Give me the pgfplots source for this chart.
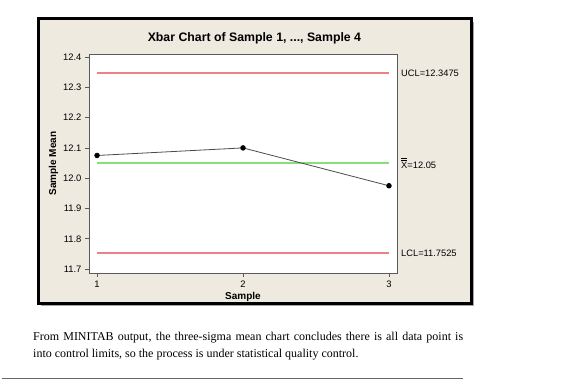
\documentclass[border=0pt]{standalone}
\usepackage{pgfplots}
\pgfplotsset{compat=1.18}
\usepackage{fontspec}
\setmainfont{Liberation Sans}
\newfontfamily\serif{Liberation Serif}
\definecolor{framebg}{RGB}{238,234,224}
\definecolor{uclcol}{RGB}{232,130,135}
\definecolor{clcol}{RGB}{135,222,125}
\definecolor{axgray}{RGB}{90,90,90}
\begin{document}
\begin{tikzpicture}[x=1pt,y=1pt]
\useasboundingbox (0,0) rectangle (580,389);
% frame with shadow
\fill[black!35] (41,389-306) rectangle (474,389-22);
\filldraw[fill=framebg, draw=black, line width=3pt] (38,389-303.5) rectangle (471,389-19);
\begin{axis}[
  at={(89pt,116pt)}, anchor=south west,
  scale only axis, width=308pt, height=219pt,
  xmin=0.945, xmax=3.055, ymin=11.687, ymax=12.41,
  axis background/.style={fill=white},
  axis line style={axgray, line width=0.8pt},
  xtick={1,2,3}, ytick={11.7,11.8,11.9,12.0,12.1,12.2,12.3,12.4},
  yticklabel style={/pgf/number format/fixed, /pgf/number format/fixed zerofill, /pgf/number format/precision=1},
  /pgf/number format/assume math mode=true,
  tick align=outside, major tick length=4pt,
  tick style={axgray, line width=0.8pt},
  xtick pos=bottom, ytick pos=left,
  ticklabel style={font=\fontsize{9.4}{10}\selectfont, text=black},
  every axis title shift=0pt,
  title={Xbar Chart of Sample 1, ..., Sample 4},
  title style={font=\bfseries\fontsize{12.3}{14}\selectfont, at={(axis description cs:0.537,1.070)}, anchor=center},
  xlabel={Sample},
  xlabel style={font=\bfseries\fontsize{10}{12}\selectfont, at={(axis description cs:0.5,-0.110)}, anchor=center},
  ylabel={Sample Mean},
  ylabel style={font=\bfseries\fontsize{10}{12}\selectfont, at={(axis description cs:-0.115,0.5)}, anchor=center},
  clip=false,
]
\addplot[uclcol, line width=1.5pt] coordinates {(1,12.3475) (3,12.3475)};
\addplot[uclcol, line width=1.5pt] coordinates {(1,11.7525) (3,11.7525)};
\addplot[clcol, line width=1.5pt] coordinates {(1,12.05) (3,12.05)};
\addplot[black!70, line width=0.8pt, mark=*, mark size=2.3pt, mark options={fill=black, draw=black}] coordinates {(1,12.075) (2,12.1) (3,11.975)};
\node[anchor=west, inner sep=0, xshift=4pt, font=\fontsize{9.3}{10}\selectfont] at (axis cs:3.055,12.3475) {UCL=12.3475};
\node[anchor=west, inner sep=0, xshift=4pt, font=\fontsize{9.3}{10}\selectfont] at (axis cs:3.055,12.05) {$\overline{\overline{\mbox{X}}}$=12.05};
\node[anchor=west, inner sep=0, xshift=4pt, font=\fontsize{9.3}{10}\selectfont] at (axis cs:3.055,11.7525) {LCL=11.7525};
\end{axis}
\node[anchor=base west, inner sep=0, font=\serif\fontsize{12}{17}\selectfont] at (33,389-340) {\makebox[430pt][s]{\spaceskip=0.25em plus 0.5em minus 0.1em From MINITAB output, the three-sigma mean chart concludes there is all data point is}};
\node[anchor=base west, inner sep=0, font=\serif\fontsize{12}{17}\selectfont] at (33,389-357) {into control limits, so the process is under statistical quality control.};
\draw[black!60, line width=0.8pt] (2,389-378) -- (463,389-378);
\end{tikzpicture}
\end{document}
